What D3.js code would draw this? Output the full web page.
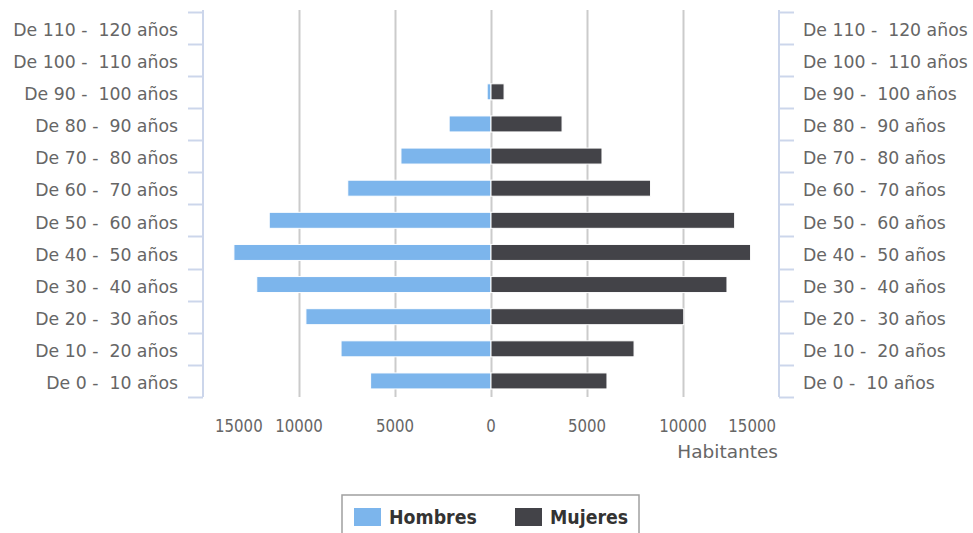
<!DOCTYPE html>
<html>
<head>
<meta charset="utf-8">
<script src="https://cdn.jsdelivr.net/npm/d3@7"></script>
<style>
  body { margin: 0; background: #fff; }
  svg { font-family: "DejaVu Sans", Verdana, sans-serif; }
</style>
</head>
<body>
<svg id="chart" width="973" height="533"></svg>
<script>
const categories = [
  'De 0 -  10 años', 'De 10 -  20 años', 'De 20 -  30 años', 'De 30 -  40 años',
  'De 40 -  50 años', 'De 50 -  60 años', 'De 60 -  70 años', 'De 70 -  80 años',
  'De 80 -  90 años', 'De 90 -  100 años', 'De 100 -  110 años', 'De 110 -  120 años'
];
const hombres = [6270, 7810, 9640, 12200, 13390, 11550, 7460, 4690, 2180, 200, 0, 0];
const mujeres = [6040, 7450, 10040, 12290, 13520, 12690, 8310, 5780, 3700, 680, 0, 0];
const xTicks = [-15000, -10000, -5000, 0, 5000, 10000, 15000];

const svg = d3.select('#chart');
const plotLeft = 203, plotRight = 779, plotTop = 11.5, plotBottom = 397;

const x = d3.scaleLinear().domain([-15000, 15000]).range([plotLeft, plotRight]);
const y = d3.scaleBand().domain(categories.slice().reverse()).range([plotTop, plotBottom]);

// grid
svg.append('g')
   .selectAll('line')
   .data(xTicks.slice(1, -1))
   .enter().append('line')
     .attr('x1', d => Math.round(x(d)) + 0.5)
     .attr('x2', d => Math.round(x(d)) + 0.5)
     .attr('y1', 10)
     .attr('y2', plotBottom)
     .attr('stroke', '#cbcbcb')
     .attr('stroke-width', 2);

// left / right category axes
const axisColor = '#ccd6eb';
[[plotLeft, -1], [plotRight, 1]].forEach(([ax, dir]) => {
  const g = svg.append('g');
  g.append('line')
   .attr('x1', ax).attr('x2', ax).attr('y1', 10).attr('y2', plotBottom)
   .attr('stroke', axisColor).attr('stroke-width', 2);
  const edges = categories.map(c => y(c)).concat([plotBottom]);
  g.selectAll('line.tick')
   .data(edges)
   .enter().append('line')
     .attr('class', 'tick')
     .attr('x1', ax).attr('x2', ax + dir * 15)
     .attr('y1', d => Math.round(d) + 0.5).attr('y2', d => Math.round(d) + 0.5)
     .attr('stroke', axisColor).attr('stroke-width', 2);
  g.selectAll('text')
   .data(categories)
   .enter().append('text')
     .attr('x', dir < 0 ? 178 : 803)
     .attr('y', d => y(d) + y.bandwidth() / 2 + 8.3)
     .attr('text-anchor', dir < 0 ? 'end' : 'start')
     .attr('font-size', 17.3)
     .attr('fill', '#666')
     .style('white-space', 'pre')
     .text(d => d);
});

// bars
const barH = 16;
const bars = svg.append('g');
bars.selectAll('rect.h')
    .data(categories.map((c, i) => ({ c, v: hombres[i] })))
    .enter().append('rect')
      .attr('class', 'h')
      .attr('x', d => x(-d.v))
      .attr('width', d => x(0) - x(-d.v))
      .attr('y', d => y(d.c) + y.bandwidth() / 2 - barH / 2)
      .attr('height', barH)
      .attr('fill', '#7cb5ec')
      .attr('stroke', d => (d.v ? '#fff' : 'none'))
      .attr('stroke-width', 1);
bars.selectAll('rect.m')
    .data(categories.map((c, i) => ({ c, v: mujeres[i] })))
    .enter().append('rect')
      .attr('class', 'm')
      .attr('x', x(0))
      .attr('width', d => x(d.v) - x(0))
      .attr('y', d => y(d.c) + y.bandwidth() / 2 - barH / 2)
      .attr('height', barH)
      .attr('fill', '#434348')
      .attr('stroke', d => (d.v ? '#fff' : 'none'))
      .attr('stroke-width', 1);

// x tick labels (slightly stretched vertically like the original)
svg.append('g')
   .selectAll('text')
   .data(xTicks)
   .enter().append('text')
     .attr('transform', (d, i) => {
       const tx = i === 0 ? 215 : i === xTicks.length - 1 ? 776 : x(d);
       return `translate(${tx},432) scale(1,1.2)`;
     })
     .attr('text-anchor', (d, i) => (i === 0 ? 'start' : i === xTicks.length - 1 ? 'end' : 'middle'))
     .attr('font-size', 15)
     .attr('fill', '#666')
     .text(d => Math.abs(d));

svg.append('text')
   .attr('x', 778)
   .attr('y', 458)
   .attr('text-anchor', 'end')
   .attr('font-size', 18.5)
   .attr('fill', '#666')
   .text('Habitantes');

// legend
const legend = svg.append('g');
legend.append('rect')
      .attr('x', 342).attr('y', 495)
      .attr('width', 297).attr('height', 60)
      .attr('fill', 'none').attr('stroke', '#a0a0a0').attr('stroke-width', 1.5);
const items = [['Hombres', '#7cb5ec', 354], ['Mujeres', '#434348', 515]];
items.forEach(([name, col, lx]) => {
  legend.append('rect')
        .attr('x', lx).attr('y', 508).attr('width', 27).attr('height', 18)
        .attr('fill', col);
  legend.append('text')
        .attr('transform', `translate(${lx + 35},524) scale(1,1.15)`)
        .attr('font-size', 17.4).attr('font-weight', 'bold')
        .attr('fill', '#333')
        .text(name);
});
</script>
</body>
</html>
